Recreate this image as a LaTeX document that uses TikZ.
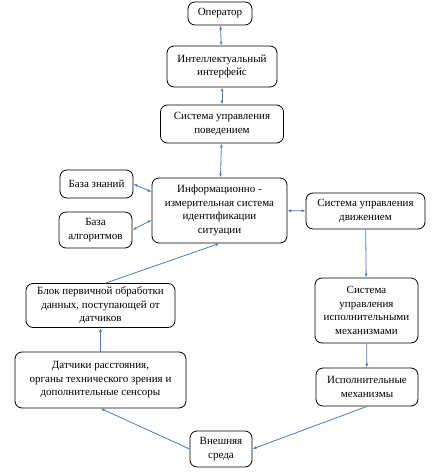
\documentclass[tikz,border=0pt]{standalone}
\usepackage{fontspec}
\setmainfont{Liberation Serif}
\usetikzlibrary{arrows.meta}
\definecolor{strelka}{HTML}{4A7EBB}
\tikzset{
  blok/.style={draw, thick, rounded corners=7pt, align=center, inner sep=0pt,
    font=\fontsize{11}{13.5}\selectfont},
  svyaz/.style={draw=strelka, line width=0.8pt, -{Latex[length=4pt,width=3pt]}},
  dvesvyaz/.style={svyaz, {Latex[length=4pt,width=3pt]}-{Latex[length=4pt,width=3pt]}}
}
\begin{document}
\begin{tikzpicture}[x=1pt,y=-1pt]
   \useasboundingbox (0,0) rectangle (440,473);

   % verhnyaya vetka
   \node[blok, minimum width=64pt, minimum height=23pt] (operator) at (220,13.5) {Оператор};
   \node[blok, minimum width=110pt, minimum height=41pt] (interfeis) at (222,66.5) {Интеллектуальный\\интерфейс};
   \node[blok, minimum width=123pt, minimum height=38pt] (povedenie) at (222,124) {Система управления\\поведением};

   % centr
   \node[blok, minimum width=135pt, minimum height=65pt] (info) at (219.5,210.5) {Информационно -\\измерительная система\\идентификации\\ситуации};
   \node[blok, minimum width=73pt, minimum height=28pt] (znaniya) at (96.5,184) {База знаний};
   \node[blok, minimum width=73pt, minimum height=36pt] (algoritmy) at (95.5,230) {База\\алгоритмов};
   \node[blok, minimum width=119pt, minimum height=36pt] (dvizhenie) at (365.5,211) {Система управления\\движением};

   % levaya vetka
   \node[blok, minimum width=149pt, minimum height=44pt] (obrabotka) at (100.5,305.5) {Блок первичной обработки\\данных, поступающей от\\датчиков};
   \node[blok, minimum width=171pt, minimum height=56pt] (datchiki) at (100.5,380) {Датчики расстояния,\\органы технического зрения и\\дополнительные сенсоры};

   % pravaya vetka
   \node[blok, minimum width=103pt, minimum height=65pt] (ispsistema) at (366.5,310.5) {Система\\управления\\исполнительными\\механизмами};
   \node[blok, minimum width=102pt, minimum height=38pt] (mehanizmy) at (367,387) {Исполнительные\\механизмы};

   % niz
   \node[blok, minimum width=62pt, minimum height=36pt] (sreda) at (221,449) {Внешняя\\среда};

   % svyazi
   \draw[dvesvyaz] (operator) -- (interfeis);
   \draw[dvesvyaz] (interfeis) -- (povedenie);
   \draw[dvesvyaz] (povedenie) -- (info);
   \draw[dvesvyaz] (znaniya.east) -- (info.west |- 0,192);
   \draw[dvesvyaz] (algoritmy.east) -- (info.west |- 0,220);
   \draw[dvesvyaz] (info) -- (dvizhenie);
   \draw[svyaz] (dvizhenie) -- (ispsistema);
   \draw[svyaz] (ispsistema) -- (mehanizmy);
   \draw[svyaz] (mehanizmy.south) -- (sreda.east);
   \draw[svyaz] (sreda.west) -- (datchiki.south);
   \draw[svyaz] (datchiki) -- (obrabotka);
   \draw[svyaz] ([xshift=5pt]obrabotka.north) -- (info.south);
\end{tikzpicture}
\end{document}
